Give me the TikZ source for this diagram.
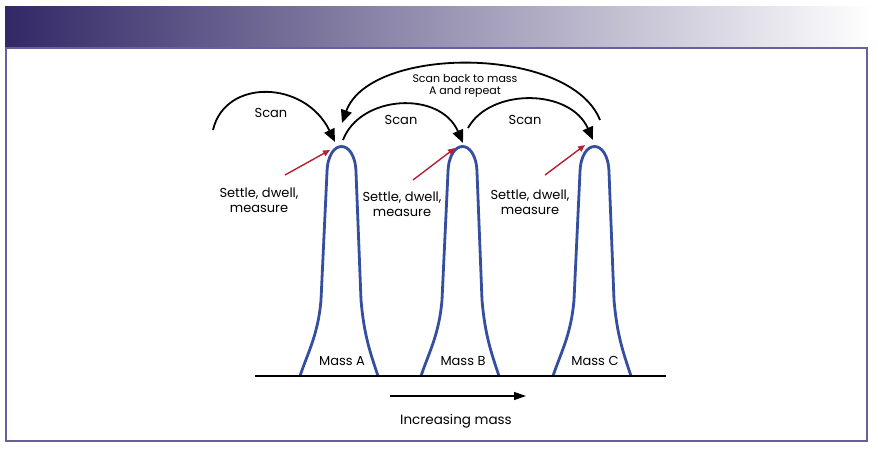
\documentclass[tikz,border=0pt]{standalone}
\usepackage{fontspec}
\setmainfont{Poppins}
\usetikzlibrary{arrows.meta}
\definecolor{headblue}{RGB}{50,40,102}
\definecolor{framecol}{RGB}{105,95,155}
\definecolor{peakblue}{RGB}{52,78,160}
\definecolor{settlered}{RGB}{185,30,50}
\tikzset{txt/.style={font=\fontsize{13}{14.5}\selectfont,align=center,inner sep=0pt}}
\tikzset{scan/.style={line width=1.8pt,-{Triangle[length=13pt,width=11pt]}}}
\tikzset{peak/.style={draw=peakblue,line width=2.8pt,line join=round}}
\tikzset{settle/.style={draw=settlered,line width=1.4pt,-{Triangle[length=7pt,width=6pt]}}}
\tikzset{axis/.style={line width=1.3pt}}

\begin{document}
\begin{tikzpicture}[x=1pt,y=-1pt]
    \useasboundingbox (0,0) rectangle (878,450);
    % header band and frame
    \shade[left color=headblue,right color=white] (5,6) rectangle (874,48);
    \draw[framecol,line width=1.5pt] (6,48) rectangle (867,441);

    % peaks
    \foreach \cx/\m in {340/A,461/B,593/C}{%
          \draw[peak] (\cx-40,376) .. controls (\cx-32,352) and (\cx-22,335) .. (\cx-19,300)
              -- (\cx-13,172) .. controls (\cx-12,138) and (\cx+15,138) .. (\cx+16,172)
              -- (\cx+21,300) .. controls (\cx+24,335) and (\cx+30,352) .. (\cx+38,376);
          \node[txt] (mass\m) at (\cx+2,361) {Mass \m};
        }
    \coordinate (axisL) at (255,376);
    \coordinate (axisR) at (666,376);
    \draw[axis] (axisL) -- (axisR);

    % increasing mass
    \coordinate (inc0) at (390,396);
    \coordinate (inc1) at (526,396);
    \draw[axis,-{Triangle[length=12pt,width=8pt]}] (inc0) -- (inc1);
    \node[txt,font=\fontsize{13.5}{15}\selectfont] (incr) at (456,421) {Increasing mass};

    % scan arrows
    \coordinate (s0) at (213,130);
    \coordinate (tA) at (335,142);
    \coordinate (sA) at (343,140);
    \coordinate (tB) at (463,143);
    \coordinate (sB) at (468,128);
    \coordinate (tC) at (593,140);
    \coordinate (sC) at (600,120);
    \coordinate (back) at (342,123);
    \draw[scan] (s0) .. controls (225,78) and (305,80) .. (tA);
    \draw[scan] (sA) .. controls (360,95) and (440,90) .. (tB);
    \draw[scan] (sB) .. controls (490,88) and (570,88) .. (tC);
    \draw[scan] (sC) .. controls (570,45) and (370,45) .. (back);
    \node[txt] (scan1) at (271,113) {Scan};
    \node[txt] (scan2) at (401,120) {Scan};
    \node[txt] (scan3) at (525,120) {Scan};
    \node[txt,font=\fontsize{11}{12.5}\selectfont] (repeat) at (465,86) {Scan back to mass\\A and repeat};

    % settle, dwell, measure
    \foreach \x/\y/\a/\b/\c/\d [count=\i] in {259/200/285/175/330/150,
                                             402/204/413/180/455/148,
                                             530/202/545/175/585/145}{%
          \node[txt] (settle\i) at (\x,\y) {Settle, dwell,\\measure};
          \coordinate (r\i) at (\a,\b);
          \coordinate (q\i) at (\c,\d);
          \draw[settle] (r\i) -- (q\i);
        }
\end{tikzpicture}
\end{document}
